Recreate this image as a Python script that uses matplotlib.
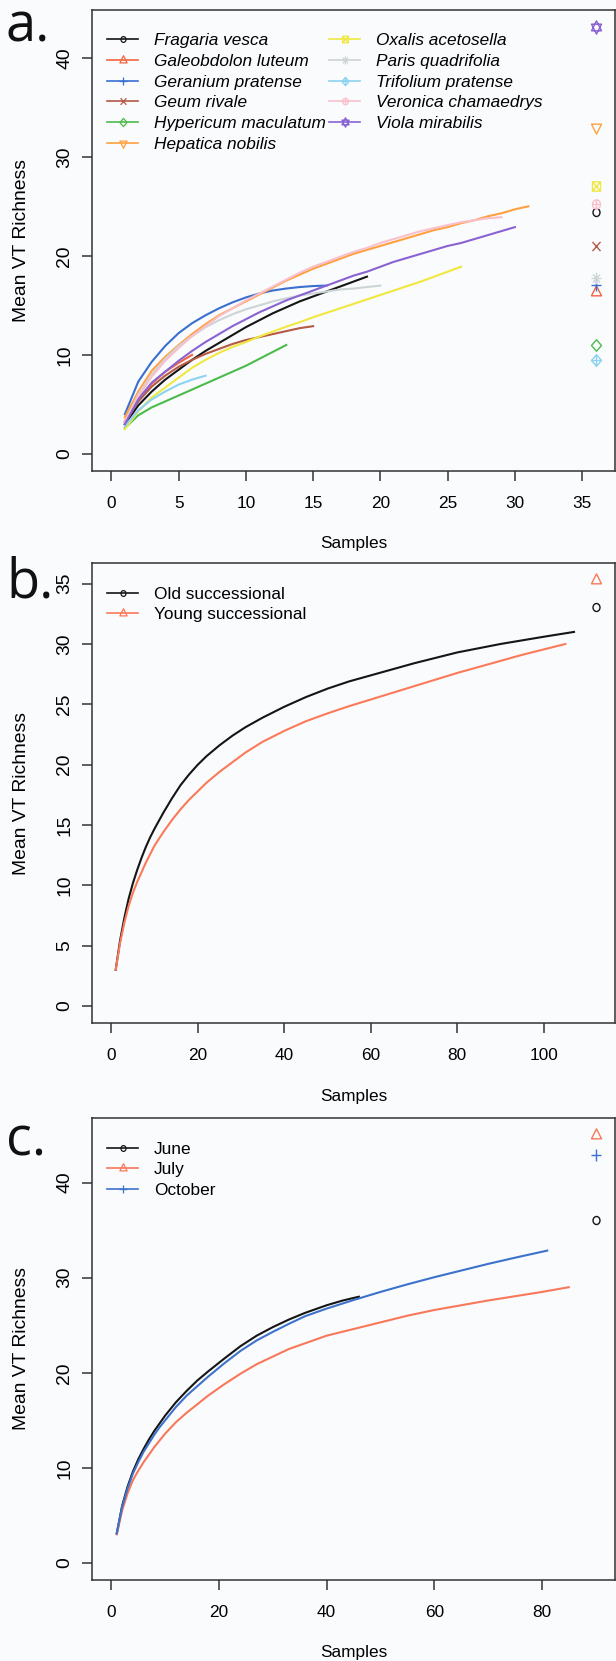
import matplotlib
matplotlib.use("Agg")
import matplotlib.pyplot as plt
import numpy as np
from matplotlib.lines import Line2D
from matplotlib.path import Path

W, H = 616, 1661
BG = "#fafbfd"
AX = "#333333"
YSTRETCH = 1.15  # the source figure is squashed horizontally a little

# ---- a. per plant species: mean VT richness vs samples (x = 1..n)
species = ["Fragaria vesca", "Galeobdolon luteum", "Geranium pratense", "Geum rivale",
           "Hypericum maculatum", "Hepatica nobilis", "Oxalis acetosella", "Paris quadrifolia",
           "Trifolium pratense", "Veronica chamaedrys", "Viola mirabilis"]
fragaria = [3.0, 4.9, 6.3, 7.5, 8.5, 9.5, 10.4, 11.2, 12.0, 12.8, 13.5, 14.2, 14.8, 15.4, 15.9,
            16.4, 16.9, 17.4, 17.9]
galeobdolon = [3.3, 5.6, 7.1, 8.3, 9.2, 10.0]
geranium = [4.0, 7.3, 9.3, 10.9, 12.2, 13.2, 14.0, 14.7, 15.3, 15.8, 16.2, 16.5, 16.7, 16.85,
            16.95, 17.0]
geum = [3.2, 5.3, 6.8, 7.9, 8.8, 9.5, 10.1, 10.6, 11.1, 11.5, 11.8, 12.1, 12.4, 12.7, 12.9]
hypericum = [2.6, 3.9, 4.7, 5.3, 5.9, 6.5, 7.1, 7.7, 8.3, 8.9, 9.6, 10.3, 11.0]
hepatica = [3.7, 6.3, 8.4, 9.8, 11.0, 12.1, 13.1, 14.0, 14.7, 15.4, 16.1, 16.8, 17.5, 18.1, 18.7,
            19.2, 19.7, 20.2, 20.6, 21.0, 21.4, 21.8, 22.2, 22.6, 22.9, 23.3, 23.6, 24.0, 24.3,
            24.7, 25.0]
oxalis = [2.5, 4.3, 5.7, 6.7, 7.7, 8.7, 9.5, 10.2, 10.8, 11.3, 11.85, 12.35, 12.85, 13.3, 13.8,
          14.25, 14.7, 15.15, 15.6, 16.05, 16.5, 16.95, 17.4, 17.9, 18.4, 18.9]
paris = [3.2, 6.0, 8.0, 9.6, 10.9, 11.9, 12.8, 13.5, 14.1, 14.6, 15.0, 15.4, 15.7, 16.0, 16.2,
         16.4, 16.6, 16.7, 16.85, 17.0]
trifolium = [2.8, 4.4, 5.5, 6.3, 7.0, 7.5, 7.9]
veronica = [3.2, 5.8, 7.8, 9.4, 10.7, 11.9, 12.9, 13.9, 14.7, 15.5, 16.2, 16.9, 17.6, 18.3, 18.9,
            19.4, 19.9, 20.4, 20.8, 21.3, 21.7, 22.1, 22.5, 22.8, 23.1, 23.4, 23.6, 23.8, 23.9]
viola = [3.0, 5.5, 7.2, 8.3, 9.4, 10.4, 11.3, 12.1, 12.9, 13.6, 14.3, 14.9, 15.5, 16.0, 16.5,
         17.0, 17.5, 18.0, 18.4, 18.9, 19.4, 19.8, 20.2, 20.6, 21.0, 21.3, 21.7, 22.1, 22.5, 22.9]
species_curves = [fragaria, galeobdolon, geranium, geum, hypericum, hepatica, oxalis, paris,
                  trifolium, veronica, viola]
# estimated total richness, drawn at the right edge
species_est = [24.4, 16.3, 17.1, 21.0, 11.0, 33.0, 27.1, 17.8, 9.5, 25.2, 43.1]
species_est_x = 36
species_cols = ["#151515", "#f4633f", "#3a6fd0", "#b45a45", "#4cbb4c", "#ffa040", "#f0e840",
                "#cdd4d6", "#8cd3f0", "#f9c0cc", "#8a63d2"]

# ---- b. successional stage
succ = ["Old successional", "Young successional"]
old_x = [1, 2, 3, 4, 5, 6, 7, 8, 9, 10, 12, 14, 16, 18, 20, 22, 25, 28, 31, 35, 40, 45, 50, 55,
         60, 65, 70, 75, 80, 85, 90, 95, 100, 107]
old_y = [3.0, 5.4, 7.3, 8.9, 10.2, 11.3, 12.3, 13.2, 14.0, 14.7, 16.0, 17.2, 18.3, 19.2, 20.0,
         20.7, 21.6, 22.4, 23.1, 23.9, 24.8, 25.6, 26.3, 26.9, 27.4, 27.9, 28.4, 28.85, 29.3,
         29.65, 30.0, 30.3, 30.6, 31.0]
young_x = [1, 2, 3, 4, 5, 6, 7, 8, 9, 10, 12, 14, 16, 18, 20, 22, 25, 28, 31, 35, 40, 45, 50,
           55, 60, 65, 70, 75, 80, 85, 90, 95, 100, 105]
young_y = [3.0, 5.2, 6.9, 8.3, 9.4, 10.3, 11.1, 11.9, 12.6, 13.3, 14.4, 15.4, 16.3, 17.1, 17.8,
           18.5, 19.4, 20.2, 21.0, 21.9, 22.8, 23.6, 24.25, 24.85, 25.4, 25.95, 26.5, 27.05,
           27.6, 28.1, 28.6, 29.1, 29.55, 30.0]
succ_est = [33.1, 35.3]
succ_est_x = 112
succ_cols = ["#151515", "#fa7a5a"]

# ---- c. sampling month
months = ["June", "July", "October"]
june_x = [1, 2, 3, 4, 5, 6, 7, 8, 9, 10, 12, 14, 16, 18, 21, 24, 27, 30, 33, 36, 40, 43, 46]
june_y = [3.1, 6.0, 8.0, 9.6, 10.9, 12.0, 13.0, 13.9, 14.7, 15.5, 16.9, 18.1, 19.2, 20.15, 21.5,
          22.8, 23.9, 24.8, 25.6, 26.3, 27.1, 27.6, 28.0]
july_x = [1, 2, 3, 4, 5, 6, 7, 8, 9, 10, 12, 14, 16, 18, 21, 24, 27, 30, 33, 36, 40, 45, 50, 55,
          60, 65, 70, 75, 80, 85]
july_y = [3.0, 5.5, 7.3, 8.7, 9.7, 10.6, 11.4, 12.2, 12.9, 13.6, 14.8, 15.8, 16.7, 17.6, 18.8,
          19.9, 20.9, 21.7, 22.5, 23.1, 23.9, 24.6, 25.3, 26.0, 26.6, 27.1, 27.6, 28.05, 28.5,
          29.0]
oct_x = [1, 2, 3, 4, 5, 6, 7, 8, 9, 10, 12, 14, 16, 18, 21, 24, 27, 30, 33, 36, 40, 45, 50, 55,
         60, 65, 70, 75, 81]
oct_y = [3.1, 5.9, 7.8, 9.4, 10.6, 11.7, 12.6, 13.5, 14.3, 15.0, 16.4, 17.6, 18.6, 19.6, 21.0,
         22.3, 23.4, 24.3, 25.15, 25.95, 26.75, 27.65, 28.5, 29.3, 30.05, 30.75, 31.45, 32.1,
         32.85]
month_est = [36.1, 45.0, 42.9]
month_est_x = 90
month_cols = ["#151515", "#f8785a", "#3d72cc"]


# R pch symbols 1..11 as marker paths (stretched vertically like the source), size in px
def _path(*parts):
    verts, codes = [], []
    for kind, pts in parts:
        if kind == "poly":
            verts += list(pts) + [pts[0]]
            codes += [Path.MOVETO] + [Path.LINETO] * (len(pts) - 1) + [Path.CLOSEPOLY]
        elif kind == "path":
            verts += [tuple(v) for v in pts.vertices]
            codes += list(pts.codes)
        else:
            for a, b in pts:
                verts += [a, b]
                codes += [Path.MOVETO, Path.LINETO]
    v = np.array(verts, float)
    v[:, 1] *= YSTRETCH
    return Path(v, codes)


s3 = np.sqrt(3) / 2
PLUS = ("seg", [((-1, 0), (1, 0)), ((0, -1), (0, 1))])
CROSS = ("seg", [((-1, -1), (1, 1)), ((-1, 1), (1, -1))])
CROSS7 = ("seg", [((-0.707, -0.707), (0.707, 0.707)), ((-0.707, 0.707), (0.707, -0.707))])
TRI_UP = ("poly", [(0, 1), (-s3, -0.5), (s3, -0.5)])
TRI_DN = ("poly", [(0, -1), (-s3, 0.5), (s3, 0.5)])
DIAM = ("poly", [(0, 1), (1, 0), (0, -1), (-1, 0)])
SQ = ("poly", [(-1, -1), (1, -1), (1, 1), (-1, 1)])
CIRC = ("path", Path.unit_circle())

PCH = [
    (_path(CIRC), 8), (_path(TRI_UP), 13.3), (_path(PLUS), 11.5), (_path(CROSS), 9.2),
    (_path(DIAM), 11.5), (_path(TRI_DN), 13.3), (_path(SQ, CROSS), 9.2),
    (_path(PLUS, CROSS7), 11.5), (_path(DIAM, PLUS), 11.5), (_path(CIRC, PLUS), 9.2),
    (_path(TRI_UP, TRI_DN), 13.3),
]
PT = 72 / 100  # px -> pt
FS = 12.4
FS_ROT = FS * 1.12

plt.rcParams["font.family"] = ["Liberation Sans", "DejaVu Sans"]
plt.rcParams["font.size"] = FS

fig = plt.figure(figsize=(W / 100, H / 100), dpi=100, facecolor=BG)


def make_ax(top, bottom, left=92, right=615):
    ax = fig.add_axes([left / W, 1 - bottom / H, (right - left) / W, (bottom - top) / H])
    ax.set_facecolor(BG)
    for s in ax.spines.values():
        s.set_color(AX)
        s.set_linewidth(1.1)
    ax.tick_params(length=7.2, width=1.1, color=AX, labelsize=FS)
    ax.tick_params(axis="x", pad=11)
    ax.tick_params(axis="y", pad=6.4, labelsize=FS_ROT)
    ax.set_xlabel("Samples", va="center")
    ax.set_ylabel("Mean VT Richness", va="center", fontsize=FS_ROT)
    ax.yaxis.set_label_coords((21.6 - left) / (right - left), 0.5)
    return ax


def finish(ax, xmax, ymax, xt, yt, xlab_y, top, bottom):
    ax.set_xlim(-0.04 * xmax, 1.04 * xmax)
    ax.set_ylim(-0.04 * ymax, 1.04 * ymax)
    ax.set_xticks(xt)
    ax.set_yticks(yt)
    plt.setp(ax.get_yticklabels(), rotation=90, va="center")
    ax.xaxis.set_label_coords(0.5, (bottom - xlab_y) / (bottom - top))


def legend(ax, labels, cols, pchs, x, top, italic=False):
    handles = [Line2D([], [], color=c, lw=1.2, marker=PCH[p][0], ms=PCH[p][1] * PT * 0.72,
                      mfc="none", mec=c, mew=0.9)
               for c, p in zip(cols, pchs)]
    lg = ax.legend(handles, labels, loc="upper left",
                   bbox_to_anchor=(x / W, 1 - top / H), bbox_transform=fig.transFigure,
                   frameon=False, borderpad=0, borderaxespad=0, numpoints=1,
                   handlelength=1.8, handletextpad=0.93, labelspacing=0.33,
                   prop={"style": "italic" if italic else "normal", "size": FS})
    ax.legend_ = None
    ax.add_artist(lg)


def est_points(ax, x, ys, cols, pchs):
    for y, c, p in zip(ys, cols, pchs):
        ax.plot([x], [y], ls="none", marker=PCH[p][0], ms=PCH[p][1] * PT,
                mfc="none", mec=c, mew=1.0, clip_on=False)


# a.
ax = make_ax(10, 471)
for vals, c in zip(species_curves, species_cols):
    ax.plot(range(1, len(vals) + 1), vals, color=c, lw=1.5)
est_points(ax, species_est_x, species_est, species_cols, range(11))
finish(ax, species_est_x, max(species_est), range(0, 36, 5), range(0, 41, 10), 543.6, 10, 471)
legend(ax, species[:6], species_cols[:6], range(6), 107, 33, italic=True)
legend(ax, species[6:], species_cols[6:], range(6, 11), 329, 33, italic=True)

# b.
ax = make_ax(563, 1023)
ax.plot(old_x, old_y, color=succ_cols[0], lw=1.5)
ax.plot(young_x, young_y, color=succ_cols[1], lw=1.5)
est_points(ax, succ_est_x, succ_est, succ_cols, [0, 1])
finish(ax, succ_est_x, max(succ_est), range(0, 101, 20), range(0, 36, 5), 1097, 563, 1023)
legend(ax, succ, succ_cols, [0, 1], 107, 586.5)

# c.
ax = make_ax(1118, 1580)
ax.plot(june_x, june_y, color=month_cols[0], lw=1.5)
ax.plot(july_x, july_y, color=month_cols[1], lw=1.5)
ax.plot(oct_x, oct_y, color=month_cols[2], lw=1.5)
est_points(ax, month_est_x, month_est, month_cols, [0, 1, 2])
finish(ax, month_est_x, max(month_est), range(0, 81, 20), range(0, 41, 10), 1652, 1118, 1580)
legend(ax, months, month_cols, [0, 1, 2], 107, 1141.5)

# panel letters
for lab, base in (("a.", 41), ("b.", 598), ("c.", 1155)):
    fig.text(6 / W, 1 - base / H, lab, fontsize=39, family="Open Sans", va="baseline",
             color="#111111")

fig.savefig("out.png", dpi=100, facecolor=BG)
